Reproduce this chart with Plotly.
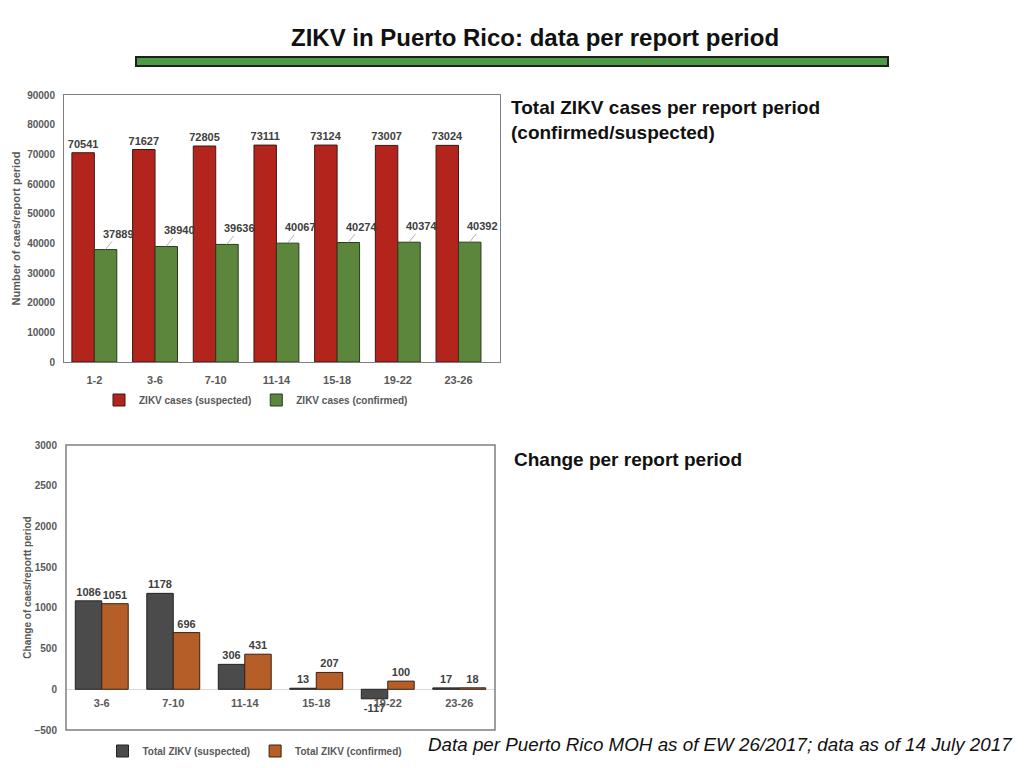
import plotly.graph_objects as go

# Totals per report period
periods = ["1-2", "3-6", "7-10", "11-14", "15-18", "19-22", "23-26"]
suspected = [70541, 71627, 72805, 73111, 73124, 73007, 73024]
confirmed = [37889, 38940, 39636, 40067, 40274, 40374, 40392]

# Change per report period
change_periods = ["3-6", "7-10", "11-14", "15-18", "19-22", "23-26"]
change_suspected = [1086, 1178, 306, 13, -117, 17]
change_confirmed = [1051, 696, 431, 207, 100, 18]

# the page body has an 8px margin, so the figure is a bit smaller than the window
PAD = 8
W, H = 1024 - 2 * PAD, 768 - 2 * PAD
GRAY = "#595959"
LABEL = "#404040"


def px_x(v):
    return (v - PAD) / W


def px_y(v):
    return 1 - (v - PAD) / H


fig = go.Figure()

# top chart
fig.add_trace(go.Bar(
    x=periods, y=suspected, name="ZIKV cases (suspected)",
    marker=dict(color="#b3241c", line=dict(color="#3a1a12", width=1)),
    text=suspected, textposition="outside", constraintext="none", cliponaxis=False,
    textfont=dict(size=11, color=LABEL, weight="bold"),
    xaxis="x", yaxis="y", legend="legend",
))
fig.add_trace(go.Bar(
    x=periods, y=confirmed, name="ZIKV cases (confirmed)",
    marker=dict(color="#5b863b", line=dict(color="#2a3a1e", width=1)),
    xaxis="x", yaxis="y", legend="legend",
))

# bottom chart
fig.add_trace(go.Bar(
    x=change_periods, y=change_suspected, name="Total ZIKV (suspected)",
    marker=dict(color="#4b4b4b", line=dict(color="#222222", width=1)),
    text=change_suspected, textposition="outside", constraintext="none", cliponaxis=False,
    textfont=dict(size=11, color=LABEL, weight="bold"),
    xaxis="x2", yaxis="y2", legend="legend2",
))
fig.add_trace(go.Bar(
    x=change_periods, y=change_confirmed, name="Total ZIKV (confirmed)",
    marker=dict(color="#b65e28", line=dict(color="#3a2010", width=1)),
    text=change_confirmed, textposition="outside", constraintext="none", cliponaxis=False,
    textfont=dict(size=11, color=LABEL, weight="bold"),
    xaxis="x2", yaxis="y2", legend="legend2",
))

# confirmed labels with leader lines (top chart)
annotations = []
for p, v in zip(periods, confirmed):
    annotations.append(dict(
        x=p, y=v, xref="x", yref="y", xshift=11,
        text=str(v), showarrow=True, arrowhead=0, arrowwidth=0.8,
        arrowcolor="#a0a0a0", ax=13, ay=-16, standoff=0,
        font=dict(size=11, color=LABEL, weight="bold"),
    ))

tick_font = dict(size=10, color=GRAY, weight="bold")

# zero position of bottom chart inside its domain, for the category labels
y2_range = [-500, 3000]
y2_dom = [px_y(730), px_y(445)]
zero_pos = y2_dom[0] + (0 - y2_range[0]) / (y2_range[1] - y2_range[0]) * (y2_dom[1] - y2_dom[0])

head_font = "Liberation Sans, Arial"

annotations += [
    dict(text="<b>ZIKV in Puerto Rico: data per report period</b>", x=px_x(535), y=px_y(37),
         xref="paper", yref="paper", xanchor="center", yanchor="middle", showarrow=False,
         font=dict(family=head_font, size=24, color="#111111")),
    dict(text="<b>Total ZIKV cases per report period<br>(confirmed/suspected)</b>", x=px_x(509), y=px_y(120),
         xref="paper", yref="paper", xanchor="left", yanchor="middle", align="left", showarrow=False,
         font=dict(family=head_font, size=19, color="#111111")),
    dict(text="<b>Change per report period</b>", x=px_x(512), y=px_y(459),
         xref="paper", yref="paper", xanchor="left", yanchor="middle", showarrow=False,
         font=dict(family=head_font, size=19, color="#111111")),
    dict(text="<i>Data per Puerto Rico MOH as of EW 26/2017; data as of 14 July 2017</i>",
         x=px_x(1015), y=px_y(744), xref="paper", yref="paper", xanchor="right", yanchor="middle",
         showarrow=False, font=dict(family="Liberation Sans, Arial", size=18.8, color="#111111")),
]

fig.update_layout(
    width=W, height=H,
    margin=dict(l=0, r=0, t=0, b=0, autoexpand=False),
    paper_bgcolor="white", plot_bgcolor="white",
    font=dict(family="Liberation Sans, Arial", color=GRAY),
    barmode="group", bargap=0.26, bargroupgap=0,
    xaxis=dict(domain=[px_x(64), px_x(500)], anchor="y", automargin=False,
               tickfont=dict(size=11, color=GRAY, weight="bold"),
               showline=True, linecolor="#7f7f7f", mirror=True, ticks="", showgrid=False,
               ticklabelstandoff=8),
    yaxis=dict(domain=[px_y(362), px_y(95)], anchor="x", automargin=False, range=[0, 90000], dtick=10000,
               tickformat="d", tickfont=tick_font, showline=True, linecolor="#7f7f7f", mirror=True,
               showgrid=False, zeroline=False, ticks="", ticklabelstandoff=6,
               title=dict(text="Number of caes/report period", font=dict(size=11, color=GRAY, weight="bold"),
                          standoff=4)),
    xaxis2=dict(domain=[px_x(66), px_x(495)], anchor="free", position=zero_pos, automargin=False,
                tickfont=dict(size=11, color=GRAY, weight="bold"), showline=False, ticks="",
                showgrid=False, ticklabelstandoff=6),
    yaxis2=dict(domain=y2_dom, anchor="x2", automargin=False, range=y2_range, dtick=500, tickformat="d",
                tickfont=tick_font, showline=False, showgrid=False, zeroline=True,
                zerolinecolor="#d9d9d9", zerolinewidth=1, ticks="", ticklabelstandoff=8,
                title=dict(text="Change of caes/reportt period", font=dict(size=10, color=GRAY, weight="bold"),
                           standoff=0)),
    legend=dict(orientation="h", x=px_x(256), y=px_y(400), xanchor="center", yanchor="middle",
                font=dict(size=10, color=GRAY, weight="bold"), itemwidth=30, bgcolor="rgba(0,0,0,0)"),
    legend2=dict(orientation="h", x=px_x(255), y=px_y(751), xanchor="center", yanchor="middle",
                 font=dict(size=10, color=GRAY, weight="bold"), itemwidth=30, bgcolor="rgba(0,0,0,0)"),
    annotations=annotations,
    shapes=[
        # green rule under the title
        dict(type="rect", xref="paper", yref="paper", x0=px_x(136), x1=px_x(888), y0=px_y(66), y1=px_y(57),
             fillcolor="#4f9a46", line=dict(color="#1e1e1e", width=2)),
        # frame of the bottom chart
        dict(type="rect", xref="x2 domain", yref="y2 domain", x0=0, x1=1, y0=0, y1=1,
             line=dict(color="#7f7f7f", width=1.5)),
    ],
)

fig.write_html("out.html")
